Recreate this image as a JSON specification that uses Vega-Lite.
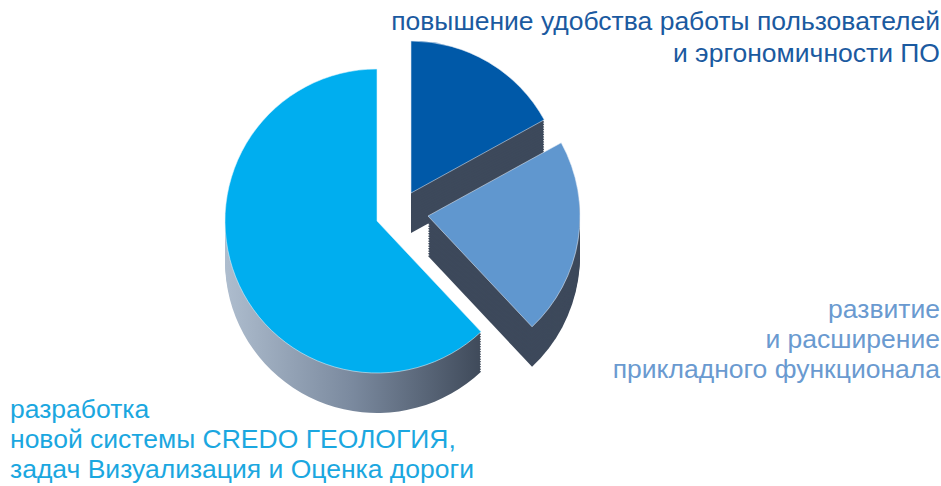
{
  "$schema": "https://vega.github.io/schema/vega-lite/v6.json",
  "width": 800,
  "height": 424,
  "autosize": "none",
  "padding": {"left": 0, "top": 0, "right": 141, "bottom": 62},
  "background": "white",
  "config": {
    "view": {"stroke": null},
    "style": {
      "side": {"radius": 152},
      "lbl": {"font": "Liberation Sans", "fontSize": 26.5, "lineBreak": "\n", "baseline": "alphabetic", "radius": 0}
    }
  },
  "data": {
    "values": [
      {"slice": "ergo", "order": 1, "value": 17, "label": "повышение удобства работы пользователей\nи эргономичности ПО"},
      {"slice": "func", "order": 2, "value": 21, "label": "развитие\nи расширение\nприкладного функционала"},
      {"slice": "geo", "order": 3, "value": 62, "label": "разработка\nновой системы CREDO ГЕОЛОГИЯ,\nзадач Визуализация и Оценка дороги"}
    ]
  },
  "transform": [
    {"stack": "value", "groupby": [], "sort": [{"field": "order", "order": "ascending"}], "as": ["v0", "v1"]}
  ],
  "encoding": {
    "theta": {"field": "v0", "type": "quantitative", "scale": {"domain": [0, 100]}},
    "theta2": {"field": "v1"}
  },
  "layer": [
    {"transform": [{"filter": "datum.slice==='ergo'"}], "mark": {"type": "arc", "style": "side", "fill": "#3d495b", "xOffset": 11, "yOffset": 21}},
    {"transform": [{"filter": "datum.slice==='ergo'"}], "mark": {"type": "arc", "style": "side", "fill": "#3d495b", "xOffset": 11, "yOffset": 18.5}},
    {"transform": [{"filter": "datum.slice==='ergo'"}], "mark": {"type": "arc", "style": "side", "fill": "#3d495b", "xOffset": 11, "yOffset": 16}},
    {"transform": [{"filter": "datum.slice==='ergo'"}], "mark": {"type": "arc", "style": "side", "fill": "#3d495b", "xOffset": 11, "yOffset": 13.5}},
    {"transform": [{"filter": "datum.slice==='ergo'"}], "mark": {"type": "arc", "style": "side", "fill": "#3d495b", "xOffset": 11, "yOffset": 11}},
    {"transform": [{"filter": "datum.slice==='ergo'"}], "mark": {"type": "arc", "style": "side", "fill": "#3d495b", "xOffset": 11, "yOffset": 8.5}},
    {"transform": [{"filter": "datum.slice==='ergo'"}], "mark": {"type": "arc", "style": "side", "fill": "#3d495b", "xOffset": 11, "yOffset": 6}},
    {"transform": [{"filter": "datum.slice==='ergo'"}], "mark": {"type": "arc", "style": "side", "fill": "#3d495b", "xOffset": 11, "yOffset": 3.5}},
    {"transform": [{"filter": "datum.slice==='ergo'"}], "mark": {"type": "arc", "style": "side", "fill": "#3d495b", "xOffset": 11, "yOffset": 1}},
    {"transform": [{"filter": "datum.slice==='ergo'"}], "mark": {"type": "arc", "style": "side", "fill": "#3d495b", "xOffset": 11, "yOffset": -1.5}},
    {"transform": [{"filter": "datum.slice==='ergo'"}], "mark": {"type": "arc", "style": "side", "fill": "#3d495b", "xOffset": 11, "yOffset": -4}},
    {"transform": [{"filter": "datum.slice==='ergo'"}], "mark": {"type": "arc", "style": "side", "fill": "#3d495b", "xOffset": 11, "yOffset": -6.5}},
    {"transform": [{"filter": "datum.slice==='ergo'"}], "mark": {"type": "arc", "style": "side", "fill": "#3d495b", "xOffset": 11, "yOffset": -9}},
    {"transform": [{"filter": "datum.slice==='ergo'"}], "mark": {"type": "arc", "style": "side", "fill": "#3d495b", "xOffset": 11, "yOffset": -11.5}},
    {"transform": [{"filter": "datum.slice==='ergo'"}], "mark": {"type": "arc", "style": "side", "fill": "#3d495b", "xOffset": 11, "yOffset": -14}},
    {"transform": [{"filter": "datum.slice==='ergo'"}], "mark": {"type": "arc", "style": "side", "fill": "#3d495b", "xOffset": 11, "yOffset": -16.5}},
    {"transform": [{"filter": "datum.slice==='ergo'"}], "mark": {"type": "arc", "radius": 152, "xOffset": 11, "yOffset": -19, "fill": "#0059a8", "stroke": "#dfe8f3", "strokeWidth": 0.8, "strokeOpacity": 0.7}},

    {"transform": [{"filter": "datum.slice==='func'"}], "mark": {"type": "arc", "style": "side", "fill": "#3d495b", "xOffset": 28, "yOffset": 44}},
    {"transform": [{"filter": "datum.slice==='func'"}], "mark": {"type": "arc", "style": "side", "fill": "#3d495b", "xOffset": 28, "yOffset": 41.5}},
    {"transform": [{"filter": "datum.slice==='func'"}], "mark": {"type": "arc", "style": "side", "fill": "#3d495b", "xOffset": 28, "yOffset": 39}},
    {"transform": [{"filter": "datum.slice==='func'"}], "mark": {"type": "arc", "style": "side", "fill": "#3d495b", "xOffset": 28, "yOffset": 36.5}},
    {"transform": [{"filter": "datum.slice==='func'"}], "mark": {"type": "arc", "style": "side", "fill": "#3d495b", "xOffset": 28, "yOffset": 34}},
    {"transform": [{"filter": "datum.slice==='func'"}], "mark": {"type": "arc", "style": "side", "fill": "#3d495b", "xOffset": 28, "yOffset": 31.5}},
    {"transform": [{"filter": "datum.slice==='func'"}], "mark": {"type": "arc", "style": "side", "fill": "#3d495b", "xOffset": 28, "yOffset": 29}},
    {"transform": [{"filter": "datum.slice==='func'"}], "mark": {"type": "arc", "style": "side", "fill": "#3d495b", "xOffset": 28, "yOffset": 26.5}},
    {"transform": [{"filter": "datum.slice==='func'"}], "mark": {"type": "arc", "style": "side", "fill": "#3d495b", "xOffset": 28, "yOffset": 24}},
    {"transform": [{"filter": "datum.slice==='func'"}], "mark": {"type": "arc", "style": "side", "fill": "#3d495b", "xOffset": 28, "yOffset": 21.5}},
    {"transform": [{"filter": "datum.slice==='func'"}], "mark": {"type": "arc", "style": "side", "fill": "#3d495b", "xOffset": 28, "yOffset": 19}},
    {"transform": [{"filter": "datum.slice==='func'"}], "mark": {"type": "arc", "style": "side", "fill": "#3d495b", "xOffset": 28, "yOffset": 16.5}},
    {"transform": [{"filter": "datum.slice==='func'"}], "mark": {"type": "arc", "style": "side", "fill": "#3d495b", "xOffset": 28, "yOffset": 14}},
    {"transform": [{"filter": "datum.slice==='func'"}], "mark": {"type": "arc", "style": "side", "fill": "#3d495b", "xOffset": 28, "yOffset": 11.5}},
    {"transform": [{"filter": "datum.slice==='func'"}], "mark": {"type": "arc", "style": "side", "fill": "#3d495b", "xOffset": 28, "yOffset": 9}},
    {"transform": [{"filter": "datum.slice==='func'"}], "mark": {"type": "arc", "style": "side", "fill": "#3d495b", "xOffset": 28, "yOffset": 6.5}},
    {"transform": [{"filter": "datum.slice==='func'"}], "mark": {"type": "arc", "radius": 152, "xOffset": 28, "yOffset": 4, "fill": "#6097cf", "stroke": "#e3ecf6", "strokeWidth": 0.8, "strokeOpacity": 0.7}},

    {"transform": [{"filter": "datum.slice==='geo'"}], "mark": {"type": "arc", "style": "side", "xOffset": -23, "yOffset": 49, "fill": {"gradient": "linear", "x1": 0, "y1": 0, "x2": 1, "y2": 0, "stops": [{"offset": 0, "color": "#aebdce"}, {"offset": 0.5, "color": "#7a899e"}, {"offset": 1, "color": "#3f4a5a"}]}}},
    {"transform": [{"filter": "datum.slice==='geo'"}], "mark": {"type": "arc", "style": "side", "xOffset": -23, "yOffset": 46.5, "fill": {"gradient": "linear", "x1": 0, "y1": 0, "x2": 1, "y2": 0, "stops": [{"offset": 0, "color": "#aebdce"}, {"offset": 0.5, "color": "#7a899e"}, {"offset": 1, "color": "#3f4a5a"}]}}},
    {"transform": [{"filter": "datum.slice==='geo'"}], "mark": {"type": "arc", "style": "side", "xOffset": -23, "yOffset": 44, "fill": {"gradient": "linear", "x1": 0, "y1": 0, "x2": 1, "y2": 0, "stops": [{"offset": 0, "color": "#aebdce"}, {"offset": 0.5, "color": "#7a899e"}, {"offset": 1, "color": "#3f4a5a"}]}}},
    {"transform": [{"filter": "datum.slice==='geo'"}], "mark": {"type": "arc", "style": "side", "xOffset": -23, "yOffset": 41.5, "fill": {"gradient": "linear", "x1": 0, "y1": 0, "x2": 1, "y2": 0, "stops": [{"offset": 0, "color": "#aebdce"}, {"offset": 0.5, "color": "#7a899e"}, {"offset": 1, "color": "#3f4a5a"}]}}},
    {"transform": [{"filter": "datum.slice==='geo'"}], "mark": {"type": "arc", "style": "side", "xOffset": -23, "yOffset": 39, "fill": {"gradient": "linear", "x1": 0, "y1": 0, "x2": 1, "y2": 0, "stops": [{"offset": 0, "color": "#aebdce"}, {"offset": 0.5, "color": "#7a899e"}, {"offset": 1, "color": "#3f4a5a"}]}}},
    {"transform": [{"filter": "datum.slice==='geo'"}], "mark": {"type": "arc", "style": "side", "xOffset": -23, "yOffset": 36.5, "fill": {"gradient": "linear", "x1": 0, "y1": 0, "x2": 1, "y2": 0, "stops": [{"offset": 0, "color": "#aebdce"}, {"offset": 0.5, "color": "#7a899e"}, {"offset": 1, "color": "#3f4a5a"}]}}},
    {"transform": [{"filter": "datum.slice==='geo'"}], "mark": {"type": "arc", "style": "side", "xOffset": -23, "yOffset": 34, "fill": {"gradient": "linear", "x1": 0, "y1": 0, "x2": 1, "y2": 0, "stops": [{"offset": 0, "color": "#aebdce"}, {"offset": 0.5, "color": "#7a899e"}, {"offset": 1, "color": "#3f4a5a"}]}}},
    {"transform": [{"filter": "datum.slice==='geo'"}], "mark": {"type": "arc", "style": "side", "xOffset": -23, "yOffset": 31.5, "fill": {"gradient": "linear", "x1": 0, "y1": 0, "x2": 1, "y2": 0, "stops": [{"offset": 0, "color": "#aebdce"}, {"offset": 0.5, "color": "#7a899e"}, {"offset": 1, "color": "#3f4a5a"}]}}},
    {"transform": [{"filter": "datum.slice==='geo'"}], "mark": {"type": "arc", "style": "side", "xOffset": -23, "yOffset": 29, "fill": {"gradient": "linear", "x1": 0, "y1": 0, "x2": 1, "y2": 0, "stops": [{"offset": 0, "color": "#aebdce"}, {"offset": 0.5, "color": "#7a899e"}, {"offset": 1, "color": "#3f4a5a"}]}}},
    {"transform": [{"filter": "datum.slice==='geo'"}], "mark": {"type": "arc", "style": "side", "xOffset": -23, "yOffset": 26.5, "fill": {"gradient": "linear", "x1": 0, "y1": 0, "x2": 1, "y2": 0, "stops": [{"offset": 0, "color": "#aebdce"}, {"offset": 0.5, "color": "#7a899e"}, {"offset": 1, "color": "#3f4a5a"}]}}},
    {"transform": [{"filter": "datum.slice==='geo'"}], "mark": {"type": "arc", "style": "side", "xOffset": -23, "yOffset": 24, "fill": {"gradient": "linear", "x1": 0, "y1": 0, "x2": 1, "y2": 0, "stops": [{"offset": 0, "color": "#aebdce"}, {"offset": 0.5, "color": "#7a899e"}, {"offset": 1, "color": "#3f4a5a"}]}}},
    {"transform": [{"filter": "datum.slice==='geo'"}], "mark": {"type": "arc", "style": "side", "xOffset": -23, "yOffset": 21.5, "fill": {"gradient": "linear", "x1": 0, "y1": 0, "x2": 1, "y2": 0, "stops": [{"offset": 0, "color": "#aebdce"}, {"offset": 0.5, "color": "#7a899e"}, {"offset": 1, "color": "#3f4a5a"}]}}},
    {"transform": [{"filter": "datum.slice==='geo'"}], "mark": {"type": "arc", "style": "side", "xOffset": -23, "yOffset": 19, "fill": {"gradient": "linear", "x1": 0, "y1": 0, "x2": 1, "y2": 0, "stops": [{"offset": 0, "color": "#aebdce"}, {"offset": 0.5, "color": "#7a899e"}, {"offset": 1, "color": "#3f4a5a"}]}}},
    {"transform": [{"filter": "datum.slice==='geo'"}], "mark": {"type": "arc", "style": "side", "xOffset": -23, "yOffset": 16.5, "fill": {"gradient": "linear", "x1": 0, "y1": 0, "x2": 1, "y2": 0, "stops": [{"offset": 0, "color": "#aebdce"}, {"offset": 0.5, "color": "#7a899e"}, {"offset": 1, "color": "#3f4a5a"}]}}},
    {"transform": [{"filter": "datum.slice==='geo'"}], "mark": {"type": "arc", "style": "side", "xOffset": -23, "yOffset": 14, "fill": {"gradient": "linear", "x1": 0, "y1": 0, "x2": 1, "y2": 0, "stops": [{"offset": 0, "color": "#aebdce"}, {"offset": 0.5, "color": "#7a899e"}, {"offset": 1, "color": "#3f4a5a"}]}}},
    {"transform": [{"filter": "datum.slice==='geo'"}], "mark": {"type": "arc", "style": "side", "xOffset": -23, "yOffset": 11.5, "fill": {"gradient": "linear", "x1": 0, "y1": 0, "x2": 1, "y2": 0, "stops": [{"offset": 0, "color": "#aebdce"}, {"offset": 0.5, "color": "#7a899e"}, {"offset": 1, "color": "#3f4a5a"}]}}},
    {"transform": [{"filter": "datum.slice==='geo'"}], "mark": {"type": "arc", "radius": 152, "xOffset": -23, "yOffset": 9, "fill": "#00aeef", "stroke": "#e0f4fc", "strokeWidth": 0.8, "strokeOpacity": 0.7}},

    {"transform": [{"filter": "datum.slice==='ergo'"}], "mark": {"type": "text", "style": "lbl", "align": "right", "dx": 540, "dy": -182, "lineHeight": 32, "fill": "#1b5aa0"}, "encoding": {"text": {"field": "label"}, "theta2": null}},
    {"transform": [{"filter": "datum.slice==='func'"}], "mark": {"type": "text", "style": "lbl", "align": "right", "dx": 540, "dy": 106, "lineHeight": 30, "fill": "#6a9ad0"}, "encoding": {"text": {"field": "label"}, "theta2": null}},
    {"transform": [{"filter": "datum.slice==='geo'"}], "mark": {"type": "text", "style": "lbl", "align": "left", "dx": -390, "dy": 206, "lineHeight": 30, "fill": "#1ba7e0"}, "encoding": {"text": {"field": "label"}, "theta2": null}}
  ]
}
